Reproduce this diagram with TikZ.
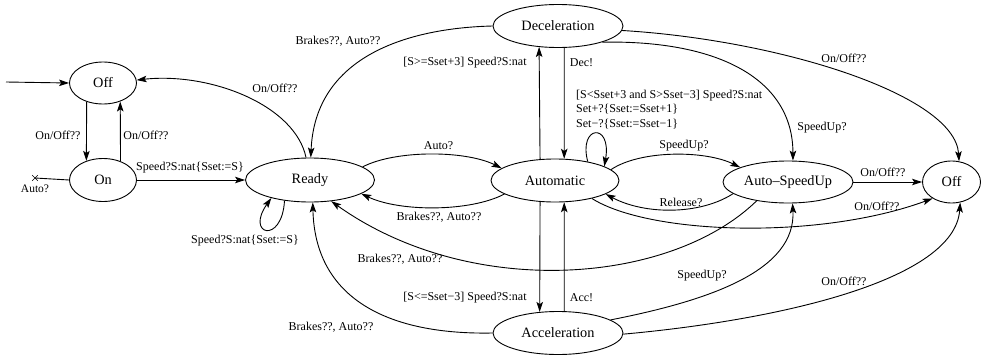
\documentclass[tikz,border=0pt]{standalone}
\usepackage{fontspec}
\setmainfont{Liberation Serif}
\usetikzlibrary{shapes.geometric,shapes.misc,arrows.meta}
\begin{document}
\begin{tikzpicture}[x=1pt,y=1pt,
  st/.style={draw, ellipse, line width=0.9pt, inner sep=0pt, minimum width=130pt, minimum height=43pt, font=\fontsize{14.3}{16}\selectfont},
  lbl/.style={inner sep=0pt, font=\fontsize{12}{14.5}\selectfont},
  tr/.style={line width=0.9pt, -{Stealth[length=10pt,width=6.5pt,inset=2.2pt]}},
  ln/.style={line width=0.9pt},
]
\useasboundingbox (0,0) rectangle (981,-356);
% states
\node[st, minimum width=67pt, minimum height=42pt] (offL) at (103,-83) {Off};
\node[st, minimum width=67pt, minimum height=43pt] (on) at (103,-180) {On};
\node[st, minimum width=129pt, minimum height=44pt] (ready) at (310,-180) {Ready};
\node[st, minimum width=128pt] (auto) at (555,-180.5) {Automatic};
\node[st] (dec) at (558,-26) {Deceleration};
\node[st] (acc) at (558,-333) {Acceleration};
\node[st, minimum height=42pt] (asu) at (788,-182) {Auto–SpeedUp};
\node[st, minimum width=58pt, minimum height=42pt] (offR) at (951.5,-182) {Off};
\coordinate (init) at (6,-82);
\node[draw, cross out, line width=0.6pt, minimum size=5pt, inner sep=0pt] (xend) at (35,-178) {};
% transitions
\draw[tr] (init) -- (offL.west);
\draw[tr] (offL.229) -- (on.131);
\draw[tr] (on.47) -- (offL.-47);
\draw[ln] (on.west) -- (xend.center);
\draw[tr] (on.east) -- (ready.west);
\draw[tr] (ready.100) .. controls (295,-105) and (210,-72) .. (offL.5);
\draw[tr] (dec.180) .. controls (410,-28) and (315,-55) .. (ready.88);
\draw[tr] (ready.-141) .. controls (282,-245) and (245,-235) .. (ready.-155);
\draw[tr] (ready.14) .. controls (395,-150) and (465,-150) .. (auto.167);
\draw[tr] (auto.195) .. controls (470,-212) and (400,-212) .. (ready.-15);
\draw[tr] (asu.211) .. controls (670,-285) and (470,-300) .. (ready.-45);
\draw[tr] (acc.180) .. controls (390,-335) and (315,-300) .. (ready.-83);
\draw[tr] (auto.125.7) -- (dec.228.9);
\draw[tr] (dec.-74.3) -- (auto.67.1);
\draw[tr] (auto.-125.7) -- (acc.131.1);
\draw[tr] (acc.74.3) -- (auto.-67.1);
\draw[tr] (auto.30) .. controls (578,-125) and (612,-122) .. (auto.16);
\draw[tr] (auto.11) .. controls (640,-150) and (705,-150) .. (asu.163);
\draw[tr] (asu.192) .. controls (700,-215) and (645,-215) .. (auto.-15);
\draw[tr] (auto.-26) .. controls (650,-235) and (820,-240) .. (offR.-139);
\draw[tr] (asu.east) -- (offR.west);
\draw[tr] (dec.-20) .. controls (720,-40) and (793,-80) .. (asu.77);
\draw[tr] (dec.-4) .. controls (780,-40) and (955,-95) .. (offR.70);
\draw[tr] (acc.14) .. controls (712,-300) and (796,-270) .. (asu.-78);
\draw[tr] (acc.-1) .. controls (780,-320) and (955,-280) .. (offR.-67);
% labels
\node[lbl] (l1) at (58,-135) {On/Off??};
\node[lbl] (l2) at (146,-135) {On/Off??};
\node[lbl, font=\fontsize{11.5}{13}\selectfont] (l3) at (35,-189) {Auto?};
\node[lbl] (l4) at (190,-168) {Speed?S:nat\{Sset:=S\}};
\node[lbl] (l5) at (275,-88) {On/Off??};
\node[lbl] (l6) at (245,-241) {Speed?S:nat\{Sset:=S\}};
\node[lbl] (l7) at (338,-41) {Brakes??, Auto??};
\node[lbl] (l8) at (465,-63) {[S>=Sset+3] Speed?S:nat};
\node[lbl] (l9) at (581.5,-63) {Dec!};
\node[lbl] (l10) at (438.5,-146) {Auto?};
\node[lbl, anchor=west, align=left] (l11) at (576,-109.5) {[S<Sset+3 and S>Sset−3] Speed?S:nat\\Set+?\{Sset:=Sset+1\}\\Set−?\{Sset:=Sset−1\}};
\node[lbl] (l12) at (684,-146) {SpeedUp?};
\node[lbl] (l13) at (681,-202) {Release?};
\node[lbl] (l14) at (439,-217) {Brakes??, Auto??};
\node[lbl] (l15) at (400,-259) {Brakes??, Auto??};
\node[lbl] (l16) at (465,-298) {[S<=Sset−3] Speed?S:nat};
\node[lbl] (l17) at (581.5,-298) {Acc!};
\node[lbl] (l18) at (331,-327) {Brakes??, Auto??};
\node[lbl] (l19) at (822,-128) {SpeedUp?};
\node[lbl] (l20) at (844,-58) {On/Off??};
\node[lbl] (l21) at (883,-172) {On/Off??};
\node[lbl] (l22) at (877,-206) {On/Off??};
\node[lbl] (l23) at (702,-276) {SpeedUp?};
\node[lbl] (l24) at (844,-281) {On/Off??};
\end{tikzpicture}
\end{document}
